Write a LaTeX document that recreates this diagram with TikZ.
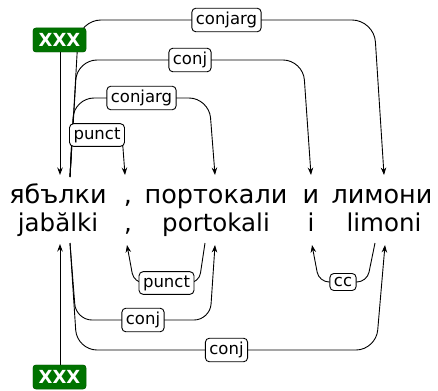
\documentclass[tikz,border=0pt]{standalone}
\usepackage{fontspec}
\setmainfont{DejaVu Sans}
\usetikzlibrary{arrows.meta}
\begin{document}
\begin{tikzpicture}[x=1pt,y=-1pt,
  word/.style={anchor=base, inner sep=0pt, font=\fontsize{25.5}{28}\selectfont},
  lword/.style={anchor=base, inner sep=0pt, font=\fontsize{24.5}{28}\selectfont},
  deplabel/.style={draw, fill=white, rounded corners=4pt, line width=0.9pt, inner xsep=4pt, inner ysep=3.8pt, font=\fontsize{16.5}{19}\selectfont},
  rootbox/.style={fill=green!45!black, draw=green!35!black, rounded corners=3pt, text=white, font=\bfseries\fontsize{18}{20}\selectfont, minimum width=53pt, minimum height=24pt, inner sep=0pt},
  dep/.style={line width=0.9pt, -{Stealth[length=7.5pt,width=5.5pt]}},
]
\useasboundingbox (0,0) rectangle (438,390);

% words
\node[word] (w1) at (58,203) {ябълки};
\node[word] (w2) at (128,203) {,};
\node[word] (w3) at (216,203) {портокали};
\node[word] (w4) at (311,203) {и};
\node[word] (w5) at (382,203) {лимони};
\node[lword] (t1) at (58,231) {jabălki};
\node[lword] (t2) at (128,231) {,};
\node[lword] (t3) at (216,231) {portokali};
\node[lword] (t4) at (311,231) {i};
\node[lword] (t5) at (384,231) {limoni};

% edge anchors
\coordinate (s1) at (70,177);
\coordinate (p1) at (60,175);
\coordinate (p2) at (125,175);
\coordinate (p3) at (215,175);
\coordinate (p4) at (311,175);
\coordinate (p5) at (384,175);
\coordinate (b1) at (70,243);
\coordinate (q1) at (60,244);
\coordinate (q2) at (127,245);
\coordinate (bo3) at (205,243);
\coordinate (q3) at (215,245);
\coordinate (q4) at (312,245);
\coordinate (bo5) at (375,243);
\coordinate (q5) at (385,245);

% root boxes (positions)
\node[rootbox] (xxx1) at (59.5,40) {XXX};
\node[rootbox] (xxx2) at (59.5,377) {XXX};

% top edges
\draw[dep, rounded corners=22pt] (s1) -- (79,20) -- node[deplabel] (l1) {conjarg} (374,20) -- (p5);
\draw[dep, rounded corners=20pt] (s1) -- (77,60) -- node[deplabel] (l2) {conj} (303,60) -- (p4);
\draw[dep, rounded corners=20pt] (s1) -- (74,98) -- node[deplabel] (l3) {conjarg} (209,98) -- (p3);
\draw[dep, rounded corners=12pt] (s1) -- (72,135) -- node[deplabel] (l4) {punct} (122,135) -- (p2);
\draw[dep] (xxx1.south -| p1) -- (p1);
% bottom edges
\draw[dep, rounded corners=10pt] (bo3) -- (199,283) -- node[deplabel] (l5) {punct} (134,283) -- (q2);
\draw[dep, rounded corners=16pt] (b1) -- (76,320) -- node[deplabel] (l6) {conj} (210,320) -- (q3);
\draw[dep, rounded corners=20pt] (b1) -- (77,350) -- node[deplabel] (l7) {conj} (376,350) -- (q5);
\draw[dep, rounded corners=10pt] (bo5) -- (367,282) -- node[deplabel] (l8) {cc} (319,282) -- (q4);
\draw[dep] (xxx2.north -| q1) -- (q1);

% root boxes on top of the edges
\node[rootbox] at (xxx1) {XXX};
\node[rootbox] at (xxx2) {XXX};
\end{tikzpicture}
\end{document}
